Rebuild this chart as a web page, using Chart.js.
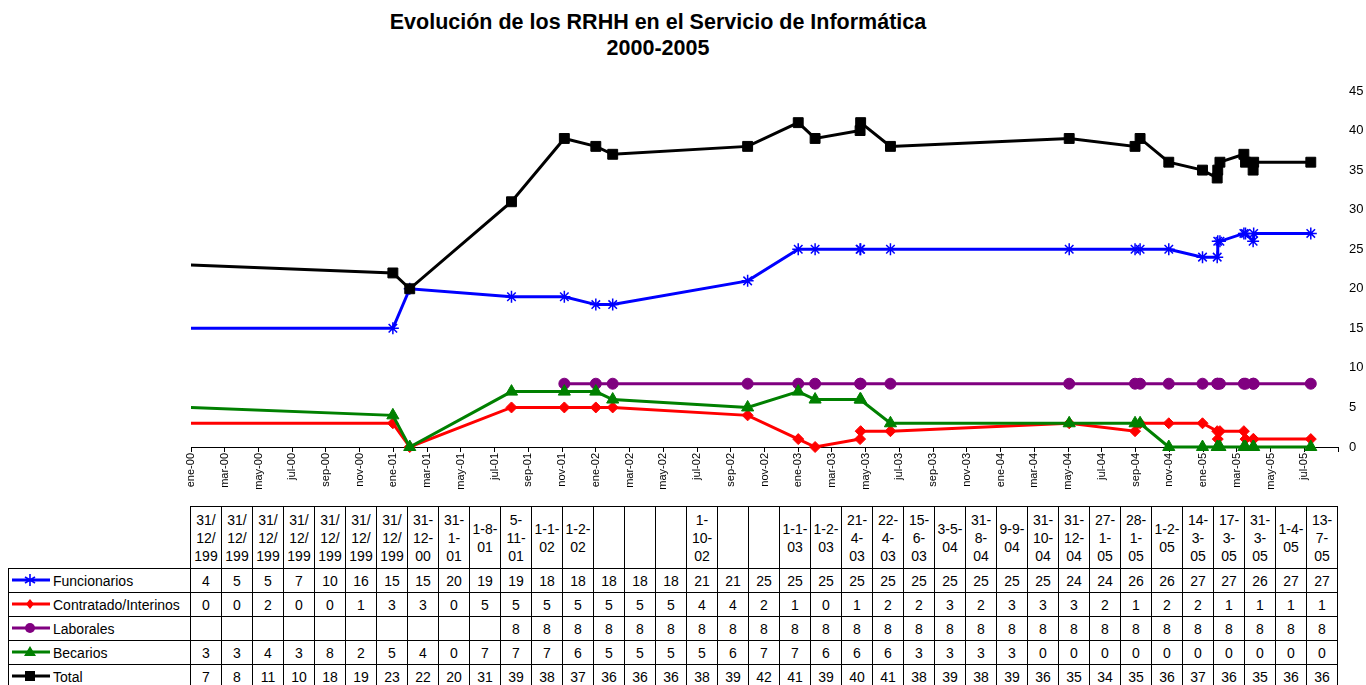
<!DOCTYPE html>
<html lang="es">
<head>
<meta charset="utf-8">
<title>Evolución de los RRHH en el Servicio de Informática</title>
<script src="https://cdn.jsdelivr.net/npm/chart.js@4.4.1/dist/chart.umd.min.js"></script>
<style>
  html, body { margin: 0; padding: 0; background: #fff; }
  body { width: 1366px; height: 685px; position: relative; overflow: hidden; font-family: "Liberation Sans", Arial, sans-serif; color: #000; }
  #titulo { position: absolute; left: 0; top: 9px; width: 1316px; text-align: center; font-weight: bold; font-size: 21.5px; line-height: 26px; }
  #zonaGrafico { position: absolute; left: 0; top: 0; width: 1366px; height: 505px; }
  #tabla { position: absolute; left: 8px; top: 506px; border-collapse: collapse; table-layout: fixed; width: 1329px; font-size: 14px; }
  #tabla td { border: 1px solid #000; padding: 0; text-align: center; overflow: hidden; }
  #tabla tr.cab td { height: 61px; line-height: 18px; vertical-align: middle; padding: 0 2px; }
  #tabla tr.fila td { height: 23px; line-height: 16px; }
  #tabla td.vacia { border: none; }
  #tabla td.serie { text-align: left; white-space: nowrap; padding-left: 2px; }
  #tabla td.serie svg { vertical-align: -2px; margin-right: 2px; }
</style>
</head>
<body>
<div id="titulo">Evolución de los RRHH en el Servicio de Informática<br>2000-2005</div>
<div id="zonaGrafico"><canvas id="grafico"></canvas></div>
<table id="tabla"></table>

<script>
// Fechas de cada columna (null = columna sin fecha)
const fechas = [
  '1993-12-31', '1994-12-31', '1995-12-31', '1996-12-31', '1997-12-31', '1998-12-31', '1999-12-31',
  '2000-12-31', '2001-01-31', '2001-08-01', '2001-11-05', '2002-01-01', '2002-02-01',
  null, null, null, '2002-10-01', null, null,
  '2003-01-01', '2003-02-01', '2003-04-21', '2003-04-22', '2003-06-15',
  '2004-05-03', '2004-08-31', '2004-09-09', '2004-10-31', '2004-12-31',
  '2005-01-27', '2005-01-28', '2005-02-01', '2005-03-14', '2005-03-17', '2005-03-31', '2005-04-01', '2005-07-13'
];

// Texto de cabecera tal como aparece en la tabla
const cabeceras = [
  '31/12/199', '31/12/199', '31/12/199', '31/12/199', '31/12/199', '31/12/199', '31/12/199',
  '31-12-00', '31-1-01', '1-8-01', '5-11-01', '1-1-02', '1-2-02',
  '', '', '', '1-10-02', '', '',
  '1-1-03', '1-2-03', '21-4-03', '22-4-03', '15-6-03',
  '3-5-04', '31-8-04', '9-9-04', '31-10-04', '31-12-04',
  '27-1-05', '28-1-05', '1-2-05', '14-3-05', '17-3-05', '31-3-05', '1-4-05', '13-7-05'
];

const funcionarios = [4, 5, 5, 7, 10, 16, 15, 15, 20, 19, 19, 18, 18, 18, 18, 18, 21, 21, 25,
  25, 25, 25, 25, 25, 25, 25, 25, 25, 24, 24, 26, 26, 27, 27, 26, 27, 27];
const contratados = [0, 0, 2, 0, 0, 1, 3, 3, 0, 5, 5, 5, 5, 5, 5, 5, 4, 4, 2,
  1, 0, 1, 2, 2, 3, 2, 3, 3, 3, 2, 1, 2, 2, 1, 1, 1, 1];
const laborales = [null, null, null, null, null, null, null, null, null, null, 8, 8, 8, 8, 8, 8, 8, 8, 8,
  8, 8, 8, 8, 8, 8, 8, 8, 8, 8, 8, 8, 8, 8, 8, 8, 8, 8];
const becarios = [3, 3, 4, 3, 8, 2, 5, 4, 0, 7, 7, 7, 6, 5, 5, 5, 5, 6, 7,
  7, 6, 6, 6, 3, 3, 3, 3, 0, 0, 0, 0, 0, 0, 0, 0, 0, 0];
const totales = [7, 8, 11, 10, 18, 19, 23, 22, 20, 31, 39, 38, 37, 36, 36, 36, 38, 39, 42,
  41, 39, 40, 41, 38, 39, 38, 39, 36, 35, 34, 35, 36, 37, 36, 35, 36, 36];

// Etiquetas del eje de fechas (cada dos meses desde ene-00)
const etiquetasEje = [
  'ene-00', 'mar-00', 'may-00', 'jul-00', 'sep-00', 'nov-00',
  'ene-01', 'mar-01', 'may-01', 'jul-01', 'sep-01', 'nov-01',
  'ene-02', 'mar-02', 'may-02', 'jul-02', 'sep-02', 'nov-02',
  'ene-03', 'mar-03', 'may-03', 'jul-03', 'sep-03', 'nov-03',
  'ene-04', 'mar-04', 'may-04', 'jul-04', 'sep-04', 'nov-04',
  'ene-05', 'mar-05', 'may-05', 'jul-05'
];

const series = [
  { nombre: 'Funcionarios', valores: funcionarios, color: '#0000FF', marca: 'star', radio: 6 },
  { nombre: 'Contratado/Interinos', valores: contratados, color: '#FF0000', marca: 'rectRot', radio: 5.5 },
  { nombre: 'Laborales', valores: laborales, color: '#800080', marca: 'circle', radio: 5.5 },
  { nombre: 'Becarios', valores: becarios, color: '#008000', marca: 'triangle', radio: 7 },
  { nombre: 'Total', valores: totales, color: '#000000', marca: 'rect', radio: 7 }
];

// fecha -> meses desde enero de 2000
function aMeses(fecha) {
  const [a, m, d] = fecha.split('-').map(Number);
  const diasMes = new Date(a, m, 0).getDate();
  return (a - 2000) * 12 + (m - 1) + (d - 1) / diasMes;
}

function puntosDe(valores) {
  const puntos = [];
  valores.forEach((v, i) => {
    if (fechas[i] && v !== null) puntos.push({ x: aMeses(fechas[i]), y: v });
  });
  return puntos;
}

Chart.defaults.font.family = '"Liberation Sans", Arial, sans-serif';
Chart.defaults.color = '#000';

const canvas = document.getElementById('grafico');
canvas.width = 1366;
canvas.height = 505;

new Chart(canvas.getContext('2d'), {
  type: 'line',
  data: {
    datasets: series.map((s, i) => ({
      label: s.nombre,
      data: puntosDe(s.valores),
      borderColor: s.color,
      backgroundColor: s.color,
      borderWidth: 3,
      tension: 0,
      pointStyle: s.marca,
      pointBackgroundColor: s.color,
      pointBorderColor: s.color,
      pointBorderWidth: s.marca === 'star' ? 1.5 : 1,
      pointRadius: ctx => (ctx.raw && ctx.raw.x < 0) ? 0 : s.radio,
      order: series.length - i,
      clip: { left: 0, top: false, right: false, bottom: false }
    }))
  },
  options: {
    responsive: false,
    animation: false,
    events: [],
    layout: { padding: { left: 191, top: 91, right: 0, bottom: 0 } },
    plugins: {
      legend: { display: false },
      tooltip: { enabled: false },
      title: { display: false }
    },
    scales: {
      x: {
        type: 'linear',
        position: 'bottom',
        min: 0,
        max: 68,
        afterBuildTicks: scale => {
          scale.ticks = etiquetasEje.map((_, i) => ({ value: i * 2 })).concat([{ value: 68 }]);
        },
        afterFit: scale => { scale.height = 58; },
        grid: { drawOnChartArea: false, drawTicks: true, tickLength: 5, color: '#000', lineWidth: 1 },
        border: { display: true, color: '#000', width: 1 },
        ticks: {
          autoSkip: false,
          minRotation: 90,
          maxRotation: 90,
          padding: 1,
          font: { size: 11 },
          callback: (v, i) => etiquetasEje[i] || ''
        }
      },
      y: {
        position: 'right',
        min: 0,
        max: 45,
        afterFit: scale => { scale.width = 28; },
        grid: { display: false, drawTicks: false },
        border: { display: false },
        ticks: { stepSize: 5, padding: 11, font: { size: 13 } }
      }
    }
  }
});

// Muestra de la serie para la columna de leyenda de la tabla
function muestraSerie(s) {
  const c = s.color;
  let marca = '';
  if (s.marca === 'star') {
    marca = `<g stroke="${c}" stroke-width="1.6"><line x1="19" y1="2" x2="19" y2="14"/><line x1="14" y1="5" x2="24" y2="11"/><line x1="14" y1="11" x2="24" y2="5"/></g>`;
  } else if (s.marca === 'rectRot') {
    marca = `<polygon points="19,3 23,8 19,13 15,8" fill="${c}"/>`;
  } else if (s.marca === 'circle') {
    marca = `<circle cx="19" cy="8" r="5" fill="${c}"/>`;
  } else if (s.marca === 'triangle') {
    marca = `<polygon points="19,2 25,12 13,12" fill="${c}"/>`;
  } else {
    marca = `<rect x="14" y="3" width="10" height="10" fill="${c}"/>`;
  }
  return `<svg width="40" height="16" viewBox="0 0 40 16"><line x1="1" y1="8" x2="39" y2="8" stroke="${c}" stroke-width="3"/>${marca}</svg>`;
}

function renderTabla() {
  const tabla = document.getElementById('tabla');
  const cols = `<colgroup><col style="width:182px">${cabeceras.map(() => '<col style="width:31px">').join('')}</colgroup>`;
  const cab = `<tr class="cab"><td class="vacia"></td>${cabeceras.map(t =>
    `<td>${t.replace(/([\/-])/g, '$1\u200b')}</td>`).join('')}</tr>`;
  const filas = series.map(s => `
    <tr class="fila">
      <td class="serie">${muestraSerie(s)}${s.nombre}</td>
      ${s.valores.map(v => `<td>${v === null ? '' : v}</td>`).join('')}
    </tr>`).join('');
  tabla.innerHTML = cols + cab + filas;
}

renderTabla();
</script>
</body>
</html>
